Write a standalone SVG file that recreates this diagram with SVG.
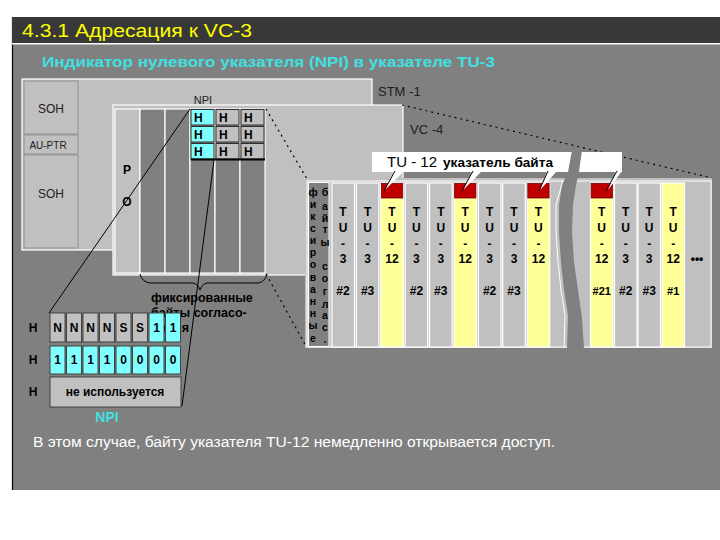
<svg xmlns="http://www.w3.org/2000/svg" width="720" height="540" viewBox="0 0 720 540">
<style>
text{font-family:"Liberation Sans",Arial,sans-serif}
.b{font-weight:bold}
.lg{fill:#c0c0c0}
.dcol{fill:#808080;stroke:#ffffff;stroke-width:1.2}
.hbox{stroke:#303030;stroke-width:1}
.cy{fill:#80ffff}
.gr{fill:#c0c0c0}
.yl{fill:#ffff99}
.tcol{stroke:#ffffff;stroke-width:1.2}
.red{fill:#c00000;stroke:#700000;stroke-width:0.8}
.dot{stroke:#000;stroke-width:1.2;stroke-dasharray:2 4;fill:none}
.ln{stroke:#000;stroke-width:1;fill:none}
.tu{font-size:12px;font-weight:bold;text-anchor:middle;fill:#000}
.fx{font-size:10.5px;font-weight:bold;text-anchor:middle;fill:#000}
.cell{font-size:12px;font-weight:bold;text-anchor:middle;fill:#000}
.bit{stroke:#404040;stroke-width:1}
.lab{font-size:13px;fill:#202020}
</style>
<rect width="720" height="540" fill="#ffffff"/>
<rect x="12" y="17" width="708" height="473" fill="#808080"/>
<line x1="12.5" y1="17" x2="12.5" y2="490" stroke="#000" stroke-width="1.2"/>
<g id="header">
<rect x="12" y="17" width="708" height="26" fill="#383838"/>
<rect x="12" y="43" width="708" height="1.5" fill="#ffffff"/>
<text x="22" y="37" font-size="18" fill="#ffff00" textLength="230" lengthAdjust="spacingAndGlyphs">4.3.1  Адресация к VC-3</text>
<text x="42" y="67" font-size="14.5" class="b" fill="#40e0e0" textLength="453" lengthAdjust="spacingAndGlyphs">Индикатор нулевого указателя (NPI) в указателе TU-3</text>
</g>
<g id="stm1">
<rect x="22" y="79" width="350" height="171" class="lg" stroke="#ffffff" stroke-width="1.2"/>
<text x="378" y="96" class="lab">STM -1</text>
</g>
<g id="soh1">
<rect x="24" y="81" width="54" height="53" class="lg" stroke="#909090" stroke-width="1"/>
<text x="51" y="113" font-size="12" text-anchor="middle" fill="#202020">SOH</text>
</g>
<g id="auptr">
<rect x="24" y="135" width="54" height="19" class="lg" stroke="#909090" stroke-width="1"/>
<text x="48" y="149" font-size="10" text-anchor="middle" fill="#202020">AU-PTR</text>
</g>
<g id="soh2">
<rect x="24" y="155" width="54" height="93" class="lg" stroke="#909090" stroke-width="1"/>
<text x="51" y="198" font-size="12" text-anchor="middle" fill="#202020">SOH</text>
</g>
<g id="vc4">
<rect x="113" y="105" width="290" height="170" class="lg" stroke="#ffffff" stroke-width="1.2"/>
<text x="410" y="134" class="lab">VC -4</text>
<rect x="115" y="109" width="25" height="164" class="gr" stroke="#ffffff" stroke-width="1.2"/>
<text x="127" y="174" font-size="12" class="b" text-anchor="middle">P</text>
<text x="127" y="206" font-size="12" class="b" text-anchor="middle">O</text>
<rect x="140" y="109" width="25" height="164" class="dcol"/>
<rect x="165" y="109" width="25" height="164" class="dcol"/>
<rect x="190" y="109" width="25" height="164" class="dcol"/>
<rect x="215" y="109" width="25" height="164" class="dcol"/>
<rect x="240" y="109" width="25" height="164" class="dcol"/>
<text x="203" y="104" font-size="11" text-anchor="middle" fill="#202020">NPI</text>
</g>
<g id="hbytes">
<rect x="191" y="109.5" width="23" height="15.5" class="cy hbox"/>
<rect x="216" y="109.5" width="23" height="15.5" class="gr hbox"/>
<rect x="241" y="109.5" width="23" height="15.5" class="gr hbox"/>
<rect x="191" y="126.5" width="23" height="15.5" class="cy hbox"/>
<rect x="216" y="126.5" width="23" height="15.5" class="gr hbox"/>
<rect x="241" y="126.5" width="23" height="15.5" class="gr hbox"/>
<rect x="191" y="143.5" width="23" height="15.5" class="cy hbox"/>
<rect x="216" y="143.5" width="23" height="15.5" class="gr hbox"/>
<rect x="241" y="143.5" width="23" height="15.5" class="gr hbox"/>
<rect x="191" y="158.5" width="74" height="2" fill="#000"/>
<g class="cell">
<text x="194" y="122" text-anchor="start">H</text><text x="219" y="122" text-anchor="start">H</text><text x="244" y="122" text-anchor="start">H</text>
<text x="194" y="139" text-anchor="start">H</text><text x="219" y="139" text-anchor="start">H</text><text x="244" y="139" text-anchor="start">H</text>
<text x="194" y="156" text-anchor="start">H</text><text x="219" y="156" text-anchor="start">H</text><text x="244" y="156" text-anchor="start">H</text>
</g>
</g>
<g id="connectors">
<path class="ln" d="M140,274 Q142,282 150,283 L193,283 Q198,284 200,290 Q202,284 207,283 L258,283 Q265,282 267,274"/>
<line class="dot" x1="266" y1="109" x2="307" y2="179"/>
<line class="dot" x1="266" y1="274" x2="307" y2="348"/>
<line class="dot" x1="402" y1="105" x2="712" y2="178"/>
</g>
<g id="tupanel">
<rect x="305" y="178" width="407" height="170" fill="#c0c0c0"/>
<rect x="307" y="181" width="404" height="166" fill="none" stroke="#ffffff" stroke-width="1"/>
<rect x="308.5" y="182.5" width="20.5" height="164" fill="#808080" stroke="#ffffff" stroke-width="1"/>
</g>
<g id="fixedtext" class="fx">
<text x="313" y="196">ф</text><text x="313" y="208">и</text><text x="313" y="220">к</text><text x="313" y="232">с</text><text x="313" y="244">и</text><text x="313" y="256">р</text><text x="313" y="268">о</text><text x="313" y="281">в</text><text x="313" y="293">а</text><text x="313" y="305">н</text><text x="313" y="317">н</text><text x="313" y="329">ы</text><text x="313" y="342">е</text>
<text x="325" y="196">б</text><text x="325" y="210">а</text><text x="325" y="222">й</text><text x="325" y="233">т</text><text x="325" y="246">ы</text><text x="325" y="270">с</text><text x="325" y="282">о</text><text x="325" y="295">г</text><text x="325" y="308">л</text><text x="325" y="319">а</text><text x="325" y="331">с</text><text x="325" y="343">.</text>
</g>
<g id="tu1"><rect x="332" y="183" width="22.5" height="164" class="gr tcol"/><g class="tu"><text x="343" y="216">T</text><text x="343" y="232">U</text><text x="343" y="248">-</text><text x="343" y="263">3</text><text x="343" y="295">#2</text></g></g>
<g id="tu2"><rect x="356.4" y="183" width="22.5" height="164" class="gr tcol"/><g class="tu"><text x="367.6" y="216">T</text><text x="367.6" y="232">U</text><text x="367.6" y="248">-</text><text x="367.6" y="263">3</text><text x="367.6" y="295">#3</text></g></g>
<g id="tu3"><rect x="380.8" y="183" width="22.5" height="164" class="yl tcol"/><rect x="381.4" y="183.5" width="21.3" height="14.5" class="red"/><g class="tu"><text x="392" y="216">T</text><text x="392" y="232">U</text><text x="392" y="248">-</text><text x="392" y="263">12</text></g></g>
<g id="tu4"><rect x="405.2" y="183" width="22.5" height="164" class="gr tcol"/><g class="tu"><text x="416.4" y="216">T</text><text x="416.4" y="232">U</text><text x="416.4" y="248">-</text><text x="416.4" y="263">3</text><text x="416.4" y="295">#2</text></g></g>
<g id="tu5"><rect x="429.6" y="183" width="22.5" height="164" class="gr tcol"/><g class="tu"><text x="440.8" y="216">T</text><text x="440.8" y="232">U</text><text x="440.8" y="248">-</text><text x="440.8" y="263">3</text><text x="440.8" y="295">#3</text></g></g>
<g id="tu6"><rect x="454" y="183" width="22.5" height="164" class="yl tcol"/><rect x="454.6" y="183.5" width="21.3" height="14.5" class="red"/><g class="tu"><text x="465.2" y="216">T</text><text x="465.2" y="232">U</text><text x="465.2" y="248">-</text><text x="465.2" y="263">12</text></g></g>
<g id="tu7"><rect x="478.4" y="183" width="22.5" height="164" class="gr tcol"/><g class="tu"><text x="489.6" y="216">T</text><text x="489.6" y="232">U</text><text x="489.6" y="248">-</text><text x="489.6" y="263">3</text><text x="489.6" y="295">#2</text></g></g>
<g id="tu8"><rect x="502.8" y="183" width="22.5" height="164" class="gr tcol"/><g class="tu"><text x="514" y="216">T</text><text x="514" y="232">U</text><text x="514" y="248">-</text><text x="514" y="263">3</text><text x="514" y="295">#3</text></g></g>
<g id="tu9"><rect x="527.2" y="183" width="22.5" height="164" class="yl tcol"/><rect x="527.8" y="183.5" width="21.3" height="14.5" class="red"/><g class="tu"><text x="538.4" y="216">T</text><text x="538.4" y="232">U</text><text x="538.4" y="248">-</text><text x="538.4" y="263">12</text></g></g>
<g id="tu21"><rect x="590.5" y="183" width="22.5" height="164" class="yl tcol"/><rect x="591.1" y="183.5" width="21.3" height="14.5" class="red"/><g class="tu"><text x="601.7" y="216">T</text><text x="601.7" y="232">U</text><text x="601.7" y="248">-</text><text x="601.7" y="263">12</text><text x="601.7" y="295" font-size="11">#21</text></g></g>
<g id="tu3b"><rect x="614.5" y="183" width="22.5" height="164" class="gr tcol"/><g class="tu"><text x="625.7" y="216">T</text><text x="625.7" y="232">U</text><text x="625.7" y="248">-</text><text x="625.7" y="263">3</text><text x="625.7" y="295">#2</text></g></g>
<g id="tu3c"><rect x="638" y="183" width="22.5" height="164" class="gr tcol"/><g class="tu"><text x="649.2" y="216">T</text><text x="649.2" y="232">U</text><text x="649.2" y="248">-</text><text x="649.2" y="263">3</text><text x="649.2" y="295">#3</text></g></g>
<g id="tu12b"><rect x="662" y="183" width="22.5" height="164" class="yl tcol"/><g class="tu"><text x="673.2" y="216">T</text><text x="673.2" y="232">U</text><text x="673.2" y="248">-</text><text x="673.2" y="263">12</text><text x="673.2" y="295" font-size="11">#1</text></g></g>
<text x="697" y="263" class="tu">•••</text>
<g id="callout">
<rect x="372" y="152" width="250" height="20" fill="#ffffff"/>
<polygon points="394,171 404,171 385,190" fill="#ffffff"/>
<line class="ln" x1="395" y1="171" x2="384" y2="191"/>
<polygon points="472,171 482,171 463,190" fill="#ffffff"/>
<line class="ln" x1="473" y1="171" x2="462" y2="191"/>
<polygon points="547,171 557,171 540,190" fill="#ffffff"/>
<line class="ln" x1="548" y1="171" x2="539" y2="191"/>
<polygon points="616,171 622,171 608,190" fill="#ffffff"/>
<line class="ln" x1="617" y1="171" x2="606" y2="191"/>
<text x="387" y="167" font-size="15" fill="#000">TU - 12</text>
<text x="443" y="167" font-size="12.5" class="b" fill="#000" textLength="110" lengthAdjust="spacingAndGlyphs">указатель байта</text>
</g>
<g id="break">
<polygon points="572,150 568,172 562,185 559,205 559,232 561,262 564,290 568,316 567,348 584,348 582,318 578,290 574,262 572,232 573,205 576,185 579,172 582,150" fill="#808080"/>
<polyline points="563,180 556,205 556,232 558,262 561,290 565,316 564,348" fill="none" stroke="#ffffff" stroke-width="1"/>
</g>
<g id="fixedlabel" class="b" font-size="12.5" fill="#000">
<text x="151" y="302">фиксированные</text>
<text x="151" y="317">байты согласо-</text>
<text x="152" y="332">вания</text>
</g>
<g id="npitable">
<g class="cell"><text x="33" y="332">H</text><text x="33" y="364">H</text><text x="33" y="396">H</text></g>
<rect x="50" y="313" width="15" height="29" class="gr bit"/>
<rect x="66.5" y="313" width="15" height="29" class="gr bit"/>
<rect x="83" y="313" width="15" height="29" class="gr bit"/>
<rect x="99.5" y="313" width="15" height="29" class="gr bit"/>
<rect x="116" y="313" width="15" height="29" class="gr bit"/>
<rect x="132.5" y="313" width="15" height="29" class="gr bit"/>
<rect x="149" y="313" width="15" height="29" class="cy bit"/>
<rect x="165.5" y="313" width="15" height="29" class="cy bit"/>
<g class="cell"><text x="57.5" y="332">N</text><text x="74" y="332">N</text><text x="90.5" y="332">N</text><text x="107" y="332">N</text><text x="123.5" y="332">S</text><text x="140" y="332">S</text><text x="156.5" y="332">1</text><text x="173" y="332">1</text></g>
<rect x="50" y="346" width="15" height="28" class="cy bit"/>
<rect x="66.5" y="346" width="15" height="28" class="cy bit"/>
<rect x="83" y="346" width="15" height="28" class="cy bit"/>
<rect x="99.5" y="346" width="15" height="28" class="cy bit"/>
<rect x="116" y="346" width="15" height="28" class="cy bit"/>
<rect x="132.5" y="346" width="15" height="28" class="cy bit"/>
<rect x="149" y="346" width="15" height="28" class="cy bit"/>
<rect x="165.5" y="346" width="15" height="28" class="cy bit"/>
<g class="cell"><text x="57.5" y="364">1</text><text x="74" y="364">1</text><text x="90.5" y="364">1</text><text x="107" y="364">1</text><text x="123.5" y="364">0</text><text x="140" y="364">0</text><text x="156.5" y="364">0</text><text x="173" y="364">0</text></g>
<rect x="50" y="377" width="131" height="30" class="gr bit"/>
<text x="115" y="396" class="cell">не используется</text>
<text x="107" y="422" font-size="14" class="b" text-anchor="middle" fill="#40e0e0">NPI</text>
</g>
<g id="npilines">
<line class="ln" x1="190" y1="109" x2="49" y2="313"/>
<line class="ln" x1="214" y1="160" x2="182" y2="406"/>
</g>
<text x="33" y="447" font-size="14" fill="#ffffff" textLength="522" lengthAdjust="spacingAndGlyphs">В этом случае, байту указателя TU-12 немедленно открывается доступ.</text>
</svg>
